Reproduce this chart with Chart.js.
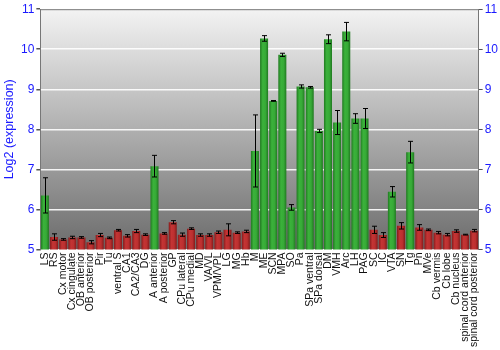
<!DOCTYPE html>
<html>
<head>
<meta charset="utf-8">
<script src="https://cdn.jsdelivr.net/npm/chart.js@4"></script>
<style>
  html, body { margin: 0; padding: 0; background: #fff; }
  #wrap { width: 500px; height: 350px; }
</style>
</head>
<body>
<div id="wrap"><canvas id="myChart"></canvas></div>
<script>
// tissue / brain region names
var regions = ["LS", "RS", "Cx motor", "Cx cingulate", "OB anterior", "OB posterior", "Pir", "Tu",
  "ventral S", "CA1", "CA2/CA3", "DG", "A anterior", "A posterior", "GP", "CPu lateral",
  "CPu medial", "MD", "VA/VL", "VPM/VPL", "LG", "MG", "Hb", "M", "ME", "SCN", "MPA", "SO",
  "Pa", "SPa ventral", "SPa dorsal", "DM", "VMH", "Arc", "LH", "PAG", "SC", "IC", "VTA", "SN",
  "Tg", "Pn", "MVe", "Cb vermis", "Cb lobe", "Cb nucleus", "spinal cord anterior", "spinal cord posterior"];

// log2 expression and its error
var expression = [6.35, 5.31, 5.25, 5.30, 5.30, 5.18, 5.36, 5.29,
  5.48, 5.34, 5.46, 5.37, 7.08, 5.40, 5.68, 5.37,
  5.52, 5.36, 5.36, 5.43, 5.49, 5.42, 5.45, 7.46, 10.27, 8.71, 9.86, 6.05,
  9.07, 9.05, 7.96, 10.25, 8.17, 10.44, 8.27, 8.27, 5.49, 5.36, 6.44, 5.59,
  7.43, 5.55, 5.49, 5.42, 5.37, 5.46, 5.37, 5.47];
var errors = [0.44, 0.08, 0.02, 0.03, 0.02, 0.04, 0.04, 0.02,
  0.02, 0.03, 0.04, 0.02, 0.27, 0.02, 0.04, 0.04,
  0.02, 0.03, 0.03, 0.03, 0.15, 0.02, 0.03, 0.9, 0.07, 0.01, 0.04, 0.07,
  0.04, 0.02, 0.04, 0.11, 0.3, 0.23, 0.12, 0.25, 0.09, 0.06, 0.13, 0.08,
  0.27, 0.07, 0.02, 0.03, 0.03, 0.03, 0.01, 0.03];

var yTicks = [5, 6, 7, 8, 9, 10, 11];
var threshold = 6; // above this the bar is drawn green

var BLUE = "#1a1aff";

// horizontal shading on each bar, darker at the edges
function barFill(ctx) {
  var high = expression[ctx.dataIndex] > threshold;
  var chart = ctx.chart;
  if (!chart.chartArea || !chart.scales.x) return high ? "#2f9f2f" : "#b02a2a";
  var x = chart.scales.x.getPixelForValue(ctx.dataIndex);
  var g = chart.ctx.createLinearGradient(x - 4.5, 0, x + 4.5, 0);
  if (high) {
    g.addColorStop(0, "#1c701c");
    g.addColorStop(0.35, "#3bb23b");
    g.addColorStop(0.65, "#37aa37");
    g.addColorStop(1, "#1c701c");
  } else {
    g.addColorStop(0, "#7a1616");
    g.addColorStop(0.35, "#c43434");
    g.addColorStop(0.65, "#bc3030");
    g.addColorStop(1, "#7a1616");
  }
  return g;
}

// grey vertical gradient behind the plot
var plotBackground = {
  id: "plotBackground",
  beforeDraw: function(chart) {
    var a = chart.chartArea, c = chart.ctx;
    var g = c.createLinearGradient(0, a.top, 0, a.bottom);
    g.addColorStop(0, "#f3f3f3");
    g.addColorStop(1, "#6c6c6c");
    c.save();
    c.fillStyle = g;
    c.fillRect(a.left, a.top, a.right - a.left, a.bottom - a.top);
    c.restore();
  }
};

// error bars with caps
var errorBars = {
  id: "errorBars",
  afterDatasetsDraw: function(chart) {
    var c = chart.ctx, xs = chart.scales.x, ys = chart.scales.y;
    c.save();
    c.strokeStyle = "#000";
    c.lineWidth = 1;
    for (var i = 0; i < expression.length; i++) {
      var x = Math.round(xs.getPixelForValue(i)) + 0.5;
      var top = ys.getPixelForValue(expression[i] + errors[i]);
      var bot = ys.getPixelForValue(expression[i] - errors[i]);
      c.beginPath();
      c.moveTo(x, top); c.lineTo(x, bot);
      c.moveTo(x - 2.5, top); c.lineTo(x + 2.5, top);
      c.moveTo(x - 2.5, bot); c.lineTo(x + 2.5, bot);
      c.stroke();
    }
    c.restore();
  }
};

// top border line of the plot
var topBorder = {
  id: "topBorder",
  afterDraw: function(chart) {
    var a = chart.chartArea, c = chart.ctx;
    c.save();
    c.strokeStyle = "#777";
    c.lineWidth = 1;
    c.beginPath();
    c.moveTo(a.left, a.top + 0.5); c.lineTo(a.right, a.top + 0.5);
    c.stroke();
    c.restore();
  }
};

new Chart("myChart", {
  type: "bar",
  data: {
    labels: regions,
    datasets: [{
      data: expression,
      backgroundColor: barFill,
      borderWidth: 0,
      categoryPercentage: 1,
      barPercentage: 0.88
    }]
  },
  options: {
    responsive: true,
    maintainAspectRatio: false,
    animation: false,
    layout: { padding: { top: 4, right: 0, left: 0, bottom: 0 } },
    plugins: {
      legend: { display: false },
      tooltip: { enabled: false }
    },
    scales: {
      x: {
        grid: { display: false, drawTicks: false },
        border: { display: false },
        ticks: {
          autoSkip: false,
          maxRotation: 90,
          minRotation: 90,
          padding: 3,
          color: "#111",
          font: { family: "Liberation Sans, Arial, sans-serif", size: 10.5 }
        }
      },
      y: {
        position: "left",
        min: 5,
        max: 11,
        afterBuildTicks: function(axis) {
          axis.ticks = yTicks.map(function(v) { return { value: v }; });
        },
        grid: { color: "rgba(255,255,255,0.9)", lineWidth: 1.5, tickColor: "#555", tickLength: 4 },
        border: { color: "#777", width: 1 },
        ticks: {
          color: BLUE,
          padding: 2,
          font: { family: "Liberation Sans, Arial, sans-serif", size: 12 }
        },
        title: {
          display: true,
          text: "Log2 (expression)",
          color: BLUE,
          padding: { top: 2, bottom: 2 },
          font: { family: "Liberation Sans, Arial, sans-serif", size: 12.5 }
        }
      },
      y2: {
        position: "right",
        min: 5,
        max: 11,
        afterBuildTicks: function(axis) {
          axis.ticks = yTicks.map(function(v) { return { value: v }; });
        },
        grid: { drawOnChartArea: false, tickColor: "#555", tickLength: 4 },
        border: { color: "#777", width: 1 },
        ticks: {
          color: BLUE,
          padding: 2,
          font: { family: "Liberation Sans, Arial, sans-serif", size: 12 }
        }
      }
    }
  },
  plugins: [plotBackground, errorBars, topBorder]
});
</script>
</body>
</html>
